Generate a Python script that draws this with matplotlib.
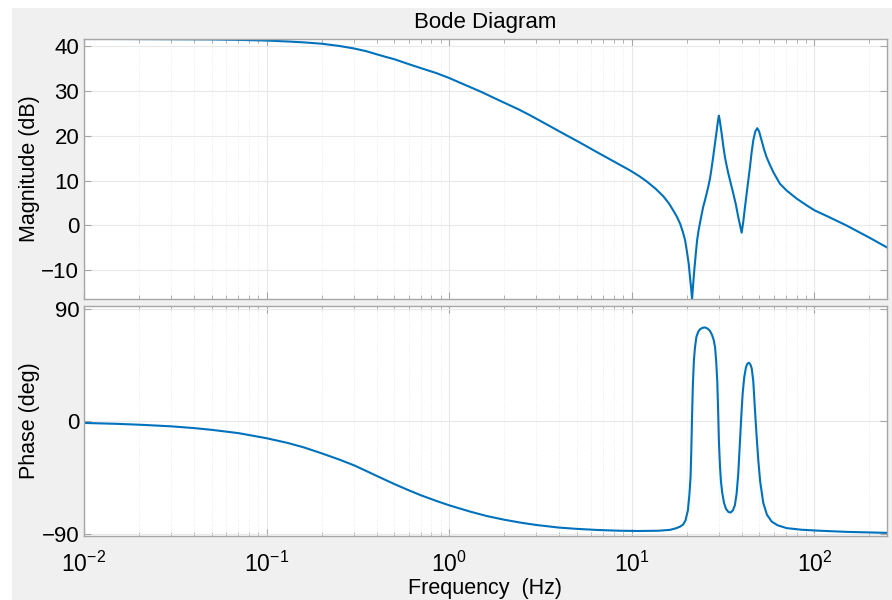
import matplotlib.pyplot as plt
from matplotlib.patches import Rectangle
from matplotlib.ticker import LogLocator, NullFormatter

# magnitude curve (Hz, dB)
mag_freq = [0.01, 0.015, 0.02, 0.03, 0.05, 0.07, 0.1, 0.13, 0.16, 0.2, 0.25, 0.3, 0.35,
            0.4, 0.45, 0.5, 0.6, 0.7, 0.85, 1.0, 1.2, 1.5, 1.75, 2.0, 2.4, 2.77, 3.3,
            4.22, 5.2, 6.42, 7.8, 9.77, 11.0, 12.1, 13.5, 14.9, 16.0, 16.9, 17.7, 18.4,
            19.0, 19.6, 20.0, 20.5, 20.9, 21.2, 21.4, 21.7, 22.0, 22.4, 22.8, 23.2,
            23.6, 24.1, 24.6, 25.2, 25.7, 26.2, 26.8, 27.3, 27.9, 28.5, 29.2, 29.7,
            30.0, 30.3, 30.7, 31.1, 31.7, 32.4, 33.1, 33.8, 34.9, 36.0, 37.2, 38.3,
            39.2, 40.0, 40.8, 41.7, 43.0, 44.4, 45.3, 46.3, 47.5, 48.7, 49.8, 51.4,
            53.0, 54.8, 57.0, 59.6, 64.8, 70.5, 80.0, 90.7, 100, 120, 150, 200, 250]
mag_db = [41.6, 41.6, 41.58, 41.55, 41.5, 41.4, 41.25, 41.05, 40.85, 40.55, 40.05, 39.5,
          38.9, 38.2, 37.6, 37.1, 36.0, 35.1, 34.0, 32.9, 31.5, 29.8, 28.5, 27.4, 25.9,
          24.6, 22.9, 20.5, 18.5, 16.4, 14.5, 12.3, 11.0, 9.8, 8.2, 6.5, 4.9, 3.3, 1.9,
          0.4, -1.3, -3.3, -5.5, -8.5, -12.0, -14.5, -16.4, -13.0, -10.0, -6.5, -3.3,
          -1.2, 0.4, 2.3, 4.1, 5.7, 7.1, 8.5, 10.4, 12.5, 15.2, 18.0, 21.2, 23.5,
          24.5, 23.6, 22.0, 20.4, 17.8, 15.2, 13.3, 11.6, 9.3, 7.1, 4.6, 1.9,
          0.0, -1.6, 0.8, 4.1, 8.5, 13.0, 16.2, 19.0, 21.0, 21.7, 21.0, 19.0,
          17.0, 15.2, 13.6, 11.9, 9.3, 7.8, 6.0, 4.5, 3.4, 1.9, 0.0, -2.7, -4.9]

# phase curve (Hz, deg)
ph_freq = [0.01, 0.015, 0.02, 0.03, 0.04, 0.05, 0.07, 0.1, 0.13, 0.16, 0.2, 0.25, 0.3,
           0.35, 0.4, 0.5, 0.6, 0.7, 0.85, 1.0, 1.3, 1.6, 2.0, 2.5, 3.0, 4.0, 5.0, 6.5,
           8.6, 11, 14, 16.2, 17.5, 18.4, 19.1, 19.7, 20.3, 20.7, 21.0, 21.2, 21.4,
           21.6, 21.9, 22.2, 22.6, 23.1, 23.6, 24.4, 25.2, 26.0, 26.8, 27.5, 28.1,
           28.6, 29.0, 29.4, 29.7, 30.0, 30.4, 30.8, 31.3, 32.0, 32.8, 33.8, 34.8,
           35.8, 36.7, 37.5, 38.3, 39.1, 39.8, 40.5, 41.3, 42.2, 43.0, 43.8, 44.6,
           45.4, 46.3, 47.3, 48.3, 49.3, 50.5, 52.5, 55.0, 58.4, 63, 70.5, 85, 107,
           150, 250]
ph_deg = [-1.3, -2.0, -2.7, -4.0, -5.4, -6.8, -9.4, -13.5, -17.2, -20.8, -25.5, -30.5,
          -35.0, -39.5, -43.5, -50.0, -55.0, -59.0, -63.5, -67.0, -72.0, -75.5, -78.5,
          -81.0, -82.7, -84.8, -85.8, -86.7, -87.3, -87.5, -87.3, -86.6, -85.3, -84.0,
          -82.4, -79.0, -71.0, -58.0, -44.0, -22.0, 5.0, 28.0, 48.8, 59.0, 67.4, 71.3,
          73.3, 74.6, 74.9, 74.0, 72.2, 69.0, 65.0, 59.0, 48.0, 32.0, 10.0, -15.0,
          -35.0, -48.0, -57.0, -65.0, -69.8, -72.3, -72.8, -71.0, -67.0, -58.0, -42.0,
          -17.5, 4.0, 22.3, 35.0, 43.0, 46.0, 46.7, 45.5, 42.2, 32.0, 9.0, -12.0,
          -30.8, -48.0, -65.0, -74.5, -80.0, -83.0, -85.2, -86.5, -87.3, -88.2, -89.0]

line_color = '#0072BD'
frame_color = '#a6a6a6'
plt.rcParams['font.family'] = ['Liberation Sans', 'DejaVu Sans']
plt.rcParams['mathtext.fontset'] = 'custom'
plt.rcParams['mathtext.rm'] = 'Liberation Sans'
plt.rcParams['mathtext.it'] = 'Liberation Sans:italic'

fig = plt.figure(figsize=(8.92, 6.0), dpi=100, facecolor='white')
# grey figure area like the MATLAB window
fig.patches.append(Rectangle((12 / 892, 0), 1 - 12 / 892, 1 - 8 / 600,
                             transform=fig.transFigure, facecolor='#f0f0f0',
                             edgecolor='none', zorder=-10))

ax1 = fig.add_axes([84 / 892, 1 - 299 / 600, 803 / 892, 260 / 600])
ax2 = fig.add_axes([84 / 892, 1 - 536 / 600, 803 / 892, 230 / 600])

ax1.plot(mag_freq, mag_db, color=line_color, lw=1.5)
ax2.plot(ph_freq, ph_deg, color=line_color, lw=1.5)

for ax in (ax1, ax2):
    ax.set_xscale('log')
    ax.set_xlim(0.01, 250)
    ax.set_facecolor('white')
    ax.xaxis.set_major_locator(LogLocator(base=10, numticks=10))
    ax.xaxis.set_minor_locator(LogLocator(base=10, subs=range(2, 10), numticks=20))
    ax.xaxis.set_minor_formatter(NullFormatter())
    ax.grid(True, which='major', color='#e8e8e8', lw=0.8)
    ax.grid(True, which='minor', axis='x', color='#ebebeb', lw=0.7, ls=':')
    ax.tick_params(which='both', direction='in', top=True, right=True,
                   color=frame_color, labelsize=16)
    ax.tick_params(which='major', length=5)
    ax.tick_params(which='minor', length=3)
    for s in ax.spines.values():
        s.set_color(frame_color)
        s.set_linewidth(1.0)

ax1.set_ylim(-16.4, 41.6)
ax1.set_yticks([-10, 0, 10, 20, 30, 40])
ax1.tick_params(axis='x', labelbottom=False)
ax1.set_ylabel('Magnitude (dB)', fontsize=15.5, labelpad=1)
ax1.set_title('Bode Diagram', fontsize=16, pad=8)

ax2.set_ylim(-91.5, 92)
ax2.set_yticks([-90, 0, 90])
ax2.tick_params(axis='x', pad=11, labelsize=16.5)
ax2.set_ylabel('Phase (deg)', fontsize=15.5, labelpad=1)
ax2.set_xlabel('Frequency  (Hz)', fontsize=15.5, labelpad=1)

fig.savefig('out.png', dpi=100)
